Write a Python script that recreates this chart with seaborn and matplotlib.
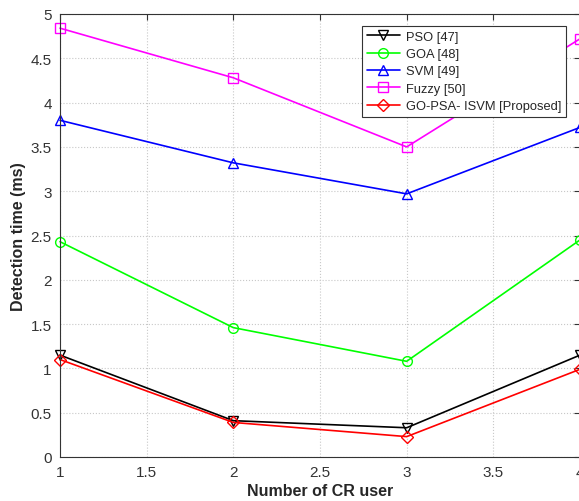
import matplotlib
matplotlib.use("Agg")
import matplotlib.pyplot as plt
import pandas as pd
import seaborn as sns

cr_users = [1, 2, 3, 4]
pso = [1.15, 0.41, 0.33, 1.15]
goa = [2.43, 1.46, 1.08, 2.45]
svm = [3.80, 3.32, 2.97, 3.72]
fuzzy = [4.84, 4.28, 3.50, 4.72]
proposed = [1.10, 0.39, 0.23, 0.99]

series_names = ["PSO [47]", "GOA [48]", "SVM [49]", "Fuzzy [50]", "GO-PSA- ISVM [Proposed]"]
series_values = [pso, goa, svm, fuzzy, proposed]
colors = ["black", "#00ff00", "#0000ff", "#ff00ff", "#ff0000"]
markers = ["v", "o", "^", "s", "D"]

df = pd.DataFrame(
    [(name, x, y) for name, vals in zip(series_names, series_values) for x, y in zip(cr_users, vals)],
    columns=["method", "cr_user", "time"],
)

sns.set_theme(style="white")
plt.rcParams["font.family"] = ["Liberation Sans", "DejaVu Sans"]

fig = plt.figure(figsize=(5.79, 5.02), dpi=100)
ax = fig.add_axes([60 / 579, 1 - 458 / 502, 520 / 579, 443 / 502])

for name, color, marker in zip(series_names, colors, markers):
    sub = df[df["method"] == name]
    sns.lineplot(
        data=sub, x="cr_user", y="time", ax=ax, color=color, marker=marker,
        markersize=7 if marker != "D" else 6, markerfacecolor="none", markeredgecolor=color,
        markeredgewidth=1.0, linewidth=1.2, label=name, clip_on=False,
    )

ax.set_xlim(1, 4)
ax.set_ylim(0, 5)
ax.set_xticks([1, 1.5, 2, 2.5, 3, 3.5, 4])
ax.set_xticklabels(["1", "1.5", "2", "2.5", "3", "3.5", "4"])
ax.set_yticks([0, 0.5, 1, 1.5, 2, 2.5, 3, 3.5, 4, 4.5, 5])
ax.set_yticklabels(["0", "0.5", "1", "1.5", "2", "2.5", "3", "3.5", "4", "4.5", "5"])
ax.grid(True, linestyle=":", color="#c8c8c8", linewidth=0.8)
for s in ax.spines.values():
    s.set_color("#333333")
    s.set_linewidth(0.8)
ax.tick_params(direction="in", length=4, width=0.8, color="#333333", labelsize=11,
               labelcolor="#333333", top=True, right=True, pad=6)
ax.set_xlabel("Number of CR user", fontsize=11.5, fontweight="bold", color="#262626", labelpad=3)
ax.set_ylabel("Detection time (ms)", fontsize=11.5, fontweight="bold", color="#262626", labelpad=3)

leg = ax.legend(loc="upper left", bbox_to_anchor=(302 / 520, 1 - 12 / 443), frameon=True,
                fancybox=False, edgecolor="#333333", framealpha=1, fontsize=9.3, handlelength=2.6,
                handletextpad=0.45, labelspacing=0.42, borderpad=0.35, borderaxespad=0)
leg.get_frame().set_linewidth(0.8)

fig.savefig("out.png", dpi=100)
